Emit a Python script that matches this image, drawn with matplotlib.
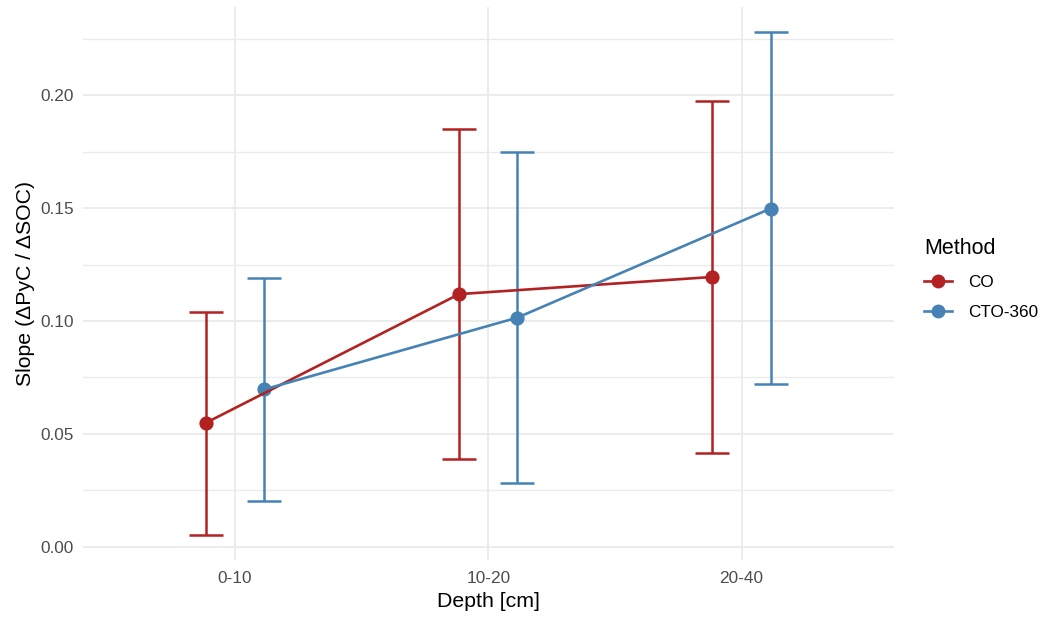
import numpy as np
import matplotlib.pyplot as plt
from matplotlib.lines import Line2D

plt.rcParams['font.family'] = ['Liberation Sans', 'DejaVu Sans']

# Data
depths = ['0-10', '10-20', '20-40']
methods = ['CO', 'CTO-360']
slope = {'CO': [0.0549, 0.1119, 0.1195],
         'CTO-360': [0.0697, 0.1015, 0.1498]}
lower = {'CO': [0.0053, 0.0387, 0.0416],
         'CTO-360': [0.0202, 0.0285, 0.0721]}
upper = {'CO': [0.1041, 0.1848, 0.1972],
         'CTO-360': [0.1190, 0.1748, 0.2279]}
colors = {'CO': '#B22222', 'CTO-360': '#4682B4'}
offsets = {'CO': -0.115, 'CTO-360': 0.115}

fig = plt.figure(figsize=(10.46, 6.19), dpi=100)
ax = fig.add_axes([0.0793, 0.0953, 0.775, 0.8934])

x = np.arange(1, len(depths) + 1)
for m in methods:
    xs = x + offsets[m]
    y = np.array(slope[m])
    lo = np.array(lower[m])
    hi = np.array(upper[m])
    ax.errorbar(xs, y, yerr=[y - lo, hi - y], fmt='none', ecolor=colors[m],
                elinewidth=1.8, capsize=12.5, capthick=1.8, zorder=3)
    ax.scatter(xs, y, s=105, color=colors[m], zorder=4, linewidths=0)
    ax.plot(xs, y, color=colors[m], lw=1.9, zorder=5)

ax.set_xlim(0.4, 3.6)
ax.set_ylim(-0.0058, 0.239)
ax.set_xticks(x)
ax.set_xticklabels(depths)
ax.set_yticks([0.0, 0.05, 0.10, 0.15, 0.20])
ax.set_yticklabels(['0.00', '0.05', '0.10', '0.15', '0.20'])
ax.set_yticks([0.025, 0.075, 0.125, 0.175, 0.225], minor=True)
ax.grid(True, which='major', color='#EBEBEB', lw=1.3, zorder=0)
ax.grid(True, which='minor', axis='y', color='#EBEBEB', lw=1.0, zorder=0)
ax.set_axisbelow(True)
for s in ax.spines.values():
    s.set_visible(False)
ax.tick_params(which='both', length=0, labelsize=12.4, labelcolor='#4D4D4D')
ax.tick_params(axis='y', pad=6.5)
ax.tick_params(axis='x', pad=8)
ax.set_xlabel('Depth [cm]', fontsize=15.3, labelpad=4)
ax.set_ylabel('Slope (ΔPyC / ΔSOC)', fontsize=15.3, labelpad=4)

handles = [Line2D([0], [0], color=colors[m], lw=1.9, marker='o', markersize=10,
                  markeredgewidth=0) for m in methods]
leg = fig.legend(handles, methods, title='Method', loc='upper left',
                 bbox_to_anchor=(0.882, 0.618), frameon=False, fontsize=12.3,
                 title_fontsize=15.5, handlelength=1.6, handletextpad=0.95,
                 labelspacing=0.9, borderpad=0.1, borderaxespad=0,
                 alignment='left')

fig.savefig('out.png', dpi=100)
